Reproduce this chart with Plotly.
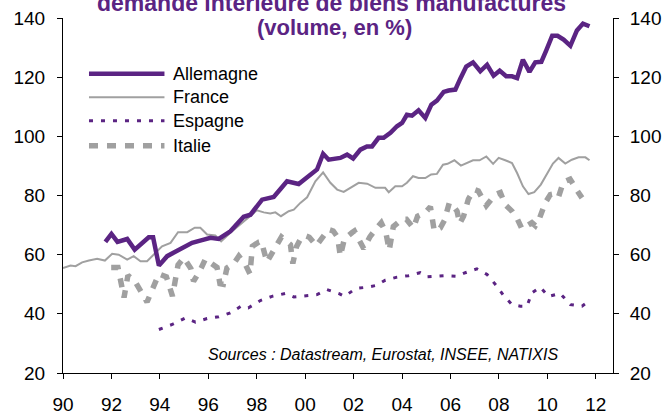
import plotly.graph_objects as go

# ---------------- data ----------------
all_x = [1991.75, 1992.0, 1992.25, 1992.65, 1992.96, 1993.27, 1993.54, 1993.72, 1993.96,
         1994.3, 1994.64, 1995.0, 1995.33, 1995.74, 1996.09, 1996.43, 1996.91, 1997.46,
         1997.74, 1998.22, 1998.7, 1998.98, 1999.25, 1999.73, 2000.08, 2000.49, 2000.74,
         2000.97, 2001.45, 2001.73, 2001.98, 2002.28, 2002.55, 2002.76, 2003.03, 2003.24,
         2003.52, 2003.79, 2004.0, 2004.2, 2004.41, 2004.68, 2004.96, 2005.21, 2005.44,
         2005.72, 2005.92, 2006.2, 2006.4, 2006.65, 2006.93, 2007.23, 2007.51, 2007.78,
         2008.03, 2008.3, 2008.54, 2008.75, 2008.99, 2009.26, 2009.5, 2009.75, 2009.95,
         2010.2, 2010.42, 2010.67, 2010.95, 2011.22, 2011.47, 2011.74]
allemagne = [64.3, 67.0, 64.3, 65.3, 61.7, 64.2, 65.9, 65.9, 56.3,
             59.5, 61.1, 62.5, 64.0, 64.9, 65.7, 65.3, 67.9, 72.8,
             73.5, 78.6, 79.5, 82.2, 84.8, 83.9, 86.3, 88.8, 94.1,
             92.1, 92.7, 93.8, 92.5, 95.5, 96.6, 96.6, 99.5, 99.5,
             101.2, 103.4, 104.5, 107.3, 107.0, 108.8, 106.2, 110.7, 112.1,
             115.0, 115.5, 115.8, 119.4, 123.6, 125.0, 122.0, 124.2, 120.5,
             122.2, 120.3, 120.3, 119.7, 125.9, 121.8, 125.0, 125.2, 129.0,
             134.0, 134.0, 132.7, 130.6, 135.8, 138.1, 137.2]

fra_x = [1990.0, 1990.31, 1990.52, 1990.79, 1991.07, 1991.41, 1991.73, 1992.03, 1992.3,
         1992.65, 1992.92, 1993.2, 1993.47, 1993.82, 1994.09, 1994.44, 1994.75, 1995.13,
         1995.44, 1995.67, 1995.95, 1996.29, 1996.53, 1996.91, 1997.33, 1997.74, 1998.01,
         1998.29, 1998.56, 1998.77, 1999.0, 1999.32, 1999.53, 1999.8, 2000.08, 2000.42,
         2000.74, 2001.04, 2001.32, 2001.59, 2001.87, 2002.21, 2002.56, 2002.9, 2003.1,
         2003.3, 2003.45, 2003.72, 2004.0, 2004.2, 2004.45, 2004.68, 2004.96, 2005.2,
         2005.44, 2005.69, 2005.88, 2006.16, 2006.43, 2006.68, 2006.93, 2007.2, 2007.48,
         2007.76, 2007.99, 2008.26, 2008.54, 2008.75, 2008.99, 2009.22, 2009.46, 2009.73,
         2009.98, 2010.23, 2010.46, 2010.74, 2011.01, 2011.29, 2011.57, 2011.74]
france = [55.5, 56.3, 56.1, 57.4, 58.0, 58.6, 58.0, 60.3, 60.0,
          58.3, 59.5, 57.8, 57.8, 60.6, 62.8, 64.0, 67.6, 67.6,
          69.1, 69.1, 66.8, 66.5, 64.5, 67.4, 70.2, 73.0, 75.0,
          74.3, 73.9, 74.3, 73.0, 74.7, 75.2, 77.5, 79.4, 84.8,
          87.8, 84.3, 82.0, 81.2, 82.6, 84.3, 84.0, 82.6, 82.6,
          82.6, 81.1, 83.1, 83.1, 84.3, 86.5, 85.9, 85.9, 87.1,
          87.3, 90.4, 90.7, 91.9, 90.1, 91.0, 91.9, 91.9, 93.2,
          90.7, 92.7, 91.9, 91.0, 87.6, 83.1, 80.5, 81.1, 83.7,
          87.1, 90.8, 92.7, 90.8, 92.1, 92.9, 92.9, 91.9]

esp_x = [1993.96, 1994.51, 1995.06, 1995.47, 1995.95, 1996.43, 1996.91, 1997.36, 1997.65,
         1998.15, 1998.63, 1999.18, 1999.53, 2000.01, 2000.49, 2000.9, 2001.38, 2001.62,
         2002.1, 2002.56, 2002.93, 2003.31, 2003.79, 2004.27, 2004.75, 2005.03, 2005.37,
         2005.79, 2006.27, 2006.61, 2007.09, 2007.51, 2007.92, 2008.19, 2008.54, 2008.88,
         2009.16, 2009.36, 2009.71, 2010.05, 2010.53, 2010.95, 2011.43, 2011.55]
espagne = [34.7, 36.4, 38.6, 37.2, 38.4, 39.0, 40.3, 42.6, 42.0,
           44.5, 45.9, 46.9, 45.7, 46.2, 46.5, 48.2, 46.9, 45.9,
           48.6, 49.0, 49.6, 51.4, 52.4, 52.9, 53.9, 52.5, 52.7,
           52.9, 52.7, 53.9, 55.2, 53.3, 49.3, 46.2, 43.1, 42.6,
           42.6, 47.1, 49.0, 45.9, 46.9, 43.1, 42.6, 43.3]

ita_x = [1991.99, 1992.27, 1992.52, 1992.68, 1992.97, 1993.47, 1993.96, 1994.27, 1994.52,
         1994.75, 1994.99, 1995.28, 1995.39, 1995.65, 1995.88, 1996.36, 1996.48, 1996.62,
         1996.77, 1997.05, 1997.26, 1997.51, 1997.72, 1997.82, 1998.09, 1998.19, 1998.42,
         1998.71, 1999.02, 1999.39, 1999.49, 1999.64, 1999.82, 1999.97, 2000.17, 2000.46,
         2000.74, 2000.96, 2001.16, 2001.34, 2001.45, 2001.62, 2001.94, 2002.03, 2002.42,
         2002.67, 2002.90, 2003.14, 2003.33, 2003.47, 2003.64, 2004.00, 2004.18, 2004.41,
         2004.47, 2004.64, 2004.96, 2005.17, 2005.33, 2005.58, 2005.75, 2005.95, 2006.07,
         2006.27, 2006.38, 2006.54, 2006.74, 2006.98, 2007.15, 2007.48, 2007.58, 2007.85,
         2008.06, 2008.26, 2008.54, 2008.77, 2008.95, 2009.36, 2009.50, 2009.68, 2009.91,
         2010.12, 2010.24, 2010.45, 2010.66, 2010.94, 2011.22, 2011.43]
italie = [55.7, 55.7, 45.5, 53.0, 51.0, 44.0, 53.5, 52.5, 46.0,
          56.5, 59.0, 55.3, 51.0, 54.5, 58.5, 55.7, 50.2, 50.0,
          55.5, 57.0, 59.5, 57.0, 53.5, 62.8, 64.3, 64.5, 57.5,
          61.3, 66.0, 63.4, 57.0, 62.7, 65.5, 66.5, 65.9, 63.0,
          66.0, 68.5, 68.0, 65.9, 59.5, 65.4, 67.5, 68.0, 62.0,
          66.0, 68.5, 70.8, 67.5, 61.5, 69.5, 72.0, 72.0, 69.4,
          69.0, 73.0, 74.2, 76.2, 68.0, 69.0, 71.6, 77.5, 77.0,
          74.7, 70.5, 73.0, 78.8, 82.0, 81.5, 76.6, 77.5, 80.3,
          81.0, 76.9, 74.7, 71.9, 68.7, 70.8, 69.8, 72.4, 77.5,
          80.3, 80.5, 79.3, 84.5, 85.5, 81.8, 79.2]

year_ticks = [1990, 1992, 1994, 1996, 1998, 2000, 2002, 2004, 2006, 2008, 2010, 2012]
year_labels = ["90", "92", "94", "96", "98", "00", "02", "04", "06", "08", "10", "12"]
y_ticks = [20, 40, 60, 80, 100, 120, 140]

series_names = ["Allemagne", "France", "Espagne", "Italie"]

PURPLE = "#5B2483"
GREY = "#A0A0A0"
FONT = "Liberation Sans, Arial, sans-serif"

styles = {
    "Allemagne": dict(color=PURPLE, width=4.5, dash="solid"),
    "France": dict(color=GREY, width=2, dash="solid"),
    "Espagne": dict(color=PURPLE, width=3, dash="4px,8px"),
    "Italie": dict(color=GREY, width=5.5, dash="9px,9px"),
}

fig = go.Figure()
for name, xs, ys in [("Italie", ita_x, italie), ("Espagne", esp_x, espagne),
                     ("France", fra_x, france), ("Allemagne", all_x, allemagne)]:
    fig.add_trace(go.Scatter(x=xs, y=ys, mode="lines", name=name,
                             line=styles[name], showlegend=False, hoverinfo="skip"))

# dummy trace so the right axis is drawn
fig.add_trace(go.Scatter(x=[None], y=[None], yaxis="y2", showlegend=False,
                         hoverinfo="skip"))

# ---------------- manual legend ----------------
plot_l, plot_r, plot_t, plot_b = 62.5, 612.7, 18.3, 373.5
W, H = 667, 414


def px(xp):
    return (xp - plot_l) / (plot_r - plot_l)


def py(yp):
    return (plot_b - yp) / (plot_b - plot_t)


shapes = []
annotations = []
rows = [74, 97.7, 121, 146]
for name, yrow in zip(series_names, rows):
    st = styles[name]
    shapes.append(dict(type="line", xref="paper", yref="paper",
                       x0=px(88.5), x1=px(164), y0=py(yrow), y1=py(yrow),
                       line=dict(color=st["color"], width=st["width"], dash=st["dash"])))
    annotations.append(dict(xref="paper", yref="paper", x=px(171), y=py(yrow),
                            xanchor="left", yanchor="middle", text=name, showarrow=False,
                            font=dict(family=FONT, size=18, color="#000000")))

# title (first line cut off by the top edge, as in the reference)
annotations.append(dict(xref="paper", yref="paper", x=px(331), y=py(3),
                        xanchor="center", yanchor="middle", showarrow=False,
                        text="<b>demande intérieure de biens manufacturés</b>",
                        font=dict(family=FONT, size=23, color=PURPLE)))
annotations.append(dict(xref="paper", yref="paper", x=px(334), y=py(28),
                        xanchor="center", yanchor="middle", showarrow=False,
                        text="<b>(volume, en %)</b>",
                        font=dict(family=FONT, size=22, color=PURPLE)))
# source
annotations.append(dict(xref="paper", yref="paper", x=px(383), y=py(355),
                        xanchor="center", yanchor="middle", showarrow=False,
                        text="<i>Sources : Datastream, Eurostat, INSEE, NATIXIS</i>",
                        font=dict(family=FONT, size=16, color="#000000")))

axis_common = dict(showgrid=False, zeroline=False, showline=True, linecolor="black",
                   linewidth=1, ticks="outside", ticklen=5, tickcolor="black",
                   automargin=False,
                   tickfont=dict(family=FONT, size=19, color="black"))

fig.update_layout(
    width=W, height=H,
    margin=dict(l=plot_l, r=W - plot_r, t=plot_t, b=H - plot_b, pad=0, autoexpand=False),
    paper_bgcolor="white", plot_bgcolor="white",
    showlegend=False,
    xaxis=dict(range=[1990, 2012.71], tickvals=year_ticks, ticktext=year_labels,
               ticklabelstandoff=9, **axis_common),
    yaxis=dict(range=[20, 140], tickvals=y_ticks, ticklabelstandoff=8, **axis_common),
    yaxis2=dict(range=[20, 140], tickvals=y_ticks, overlaying="y", side="right",
                ticklabelstandoff=7, **axis_common),
    shapes=shapes, annotations=annotations,
)

fig.write_html("out.html",
               config={"displayModeBar": False, "staticPlot": True},
               post_script="document.body.style.margin='0px';"
                           "document.body.style.overflow='hidden';")
